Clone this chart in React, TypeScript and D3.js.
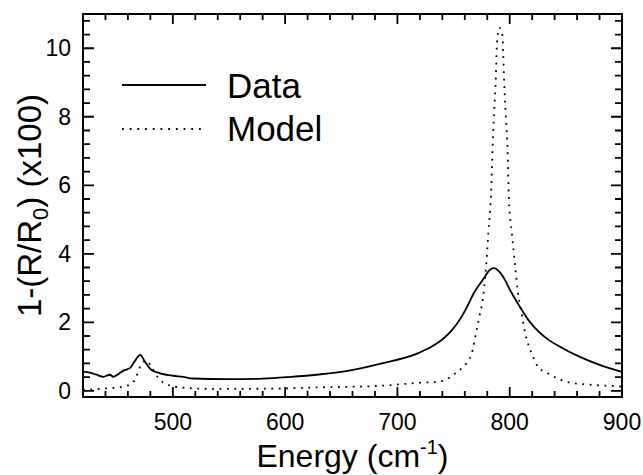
import React from "react";
import * as d3 from "d3";

// measured spectrum (Energy in cm-1, 1-(R/R0) x100)
const dataEnergy = [420, 426, 432, 438, 444, 447, 452, 456, 462, 466, 471, 475, 481, 488, 500, 509, 518, 548, 577, 601, 628, 657, 687, 717, 731, 740, 748, 756, 762, 768, 776, 783, 786, 794, 801, 808, 817, 826, 835, 844, 853, 862, 880, 899, 900];
const dataValue = [0.56, 0.53, 0.47, 0.41, 0.47, 0.41, 0.5, 0.59, 0.67, 0.86, 1.05, 0.86, 0.61, 0.52, 0.44, 0.41, 0.36, 0.34, 0.35, 0.4, 0.47, 0.59, 0.81, 1.08, 1.3, 1.5, 1.75, 2.1, 2.45, 2.85, 3.24, 3.55, 3.58, 3.34, 2.9, 2.51, 2.05, 1.72, 1.48, 1.3, 1.14, 1.0, 0.76, 0.56, 0.55];

// model curve
const modelEnergy = [420, 440, 455, 463, 467, 470, 474, 477, 480, 487, 495, 507, 530, 568, 600, 628, 660, 687, 717, 737, 743, 748, 752, 757, 761, 767, 770, 773, 776, 779, 781, 783.3, 784.7, 786.2, 787.7, 788.3, 789.2, 790.7, 792.5, 793.6, 794.2, 795.1, 796.6, 798.1, 799.3, 801.9, 804.9, 807, 810, 813.8, 820.7, 825, 833.6, 850, 870.7, 897, 900];
const modelValue = [0.03, 0.07, 0.12, 0.2, 0.38, 0.64, 0.85, 0.88, 0.75, 0.38, 0.18, 0.1, 0.06, 0.06, 0.07, 0.1, 0.12, 0.15, 0.23, 0.27, 0.32, 0.42, 0.52, 0.65, 0.78, 1.2, 1.68, 2.17, 2.66, 3.63, 4.61, 5.7, 7.04, 8.2, 9.18, 9.86, 10.35, 10.6, 10.5, 10.35, 9.86, 8.98, 8.0, 7.04, 5.6, 4.61, 3.63, 2.95, 2.36, 1.69, 1.0, 0.71, 0.52, 0.27, 0.18, 0.13, 0.12];

const xTickLabels = [500, 600, 700, 800, 900];
const xMinorTicks = [420, 440, 460, 480, 520, 540, 560, 580, 620, 640, 660, 680, 720, 740, 760, 780, 820, 840, 860, 880];
const yTickLabels = [0, 2, 4, 6, 8, 10];
const yMinorTicks = [0.4, 0.8, 1.2, 1.6, 2.4, 2.8, 3.2, 3.6, 4.4, 4.8, 5.2, 5.6, 6.4, 6.8, 7.2, 7.6, 8.4, 8.8, 9.2, 9.6, 10.4, 10.8];

const legendNames = ["Data", "Model"];

const FONT = '"Liberation Sans", Arial, Helvetica, sans-serif';

const App = () => {
    const ref = React.useRef<SVGSVGElement>(null);

    React.useEffect(() => {
        document.body.style.margin = "0";
        const svg = d3.select(ref.current);
        svg.selectAll("*").remove();

        const left = 83, right = 622, top = 14, bottom = 397;
        const x = d3.scaleLinear().domain([420, 900]).range([left, right]);
        const y = d3.scaleLinear().domain([-0.18, 11]).range([bottom, top]);

        // frame
        svg.append("rect")
            .attr("x", left).attr("y", top)
            .attr("width", right - left).attr("height", bottom - top)
            .attr("fill", "none").attr("stroke", "black").attr("stroke-width", 2);

        // inward ticks on all four sides, one path
        const tp = d3.path();
        const xt = (vals: number[], len: number) => vals.forEach((v) => {
            tp.moveTo(x(v), bottom); tp.lineTo(x(v), bottom - len);
            tp.moveTo(x(v), top); tp.lineTo(x(v), top + len);
        });
        const yt = (vals: number[], len: number) => vals.forEach((v) => {
            tp.moveTo(left, y(v)); tp.lineTo(left + len, y(v));
            tp.moveTo(right, y(v)); tp.lineTo(right - len, y(v));
        });
        xt(xTickLabels, 10);
        xt(xMinorTicks, 6);
        yt(yTickLabels, 11);
        yt(yMinorTicks, 7);
        svg.append("path")
            .attr("d", tp.toString())
            .attr("fill", "none")
            .attr("stroke", "black")
            .attr("stroke-width", 1.8);

        // tick labels
        xTickLabels.forEach((v) => {
            svg.append("text")
                .attr("x", x(v)).attr("y", 430)
                .attr("text-anchor", "middle")
                .style("font-family", FONT).style("font-size", "23px")
                .text(v);
        });
        yTickLabels.forEach((v) => {
            svg.append("text")
                .attr("x", 71).attr("y", y(v) + 8)
                .attr("text-anchor", "end")
                .style("font-family", FONT).style("font-size", "23px")
                .text(v);
        });

        // axis titles
        const xTitle = svg.append("text")
            .attr("x", (left + right) / 2).attr("y", 467)
            .attr("text-anchor", "middle")
            .style("font-family", FONT).style("font-size", "32px");
        xTitle.append("tspan").text("Energy (cm");
        xTitle.append("tspan").attr("dy", -13).style("font-size", "20px").text("-1");
        xTitle.append("tspan").attr("dy", 13).text(")");

        const yTitle = svg.append("text")
            .attr("transform", `translate(41,${(top + bottom) / 2}) rotate(-90)`)
            .attr("text-anchor", "middle")
            .style("font-family", FONT).style("font-size", "33px");
        yTitle.append("tspan").text("1-(R/R");
        yTitle.append("tspan").attr("dy", 7).style("font-size", "22px").text("0");
        yTitle.append("tspan").attr("dy", -7).text(") (x100)");

        // curves
        const dataPts = dataEnergy.map((e, i) => [e, dataValue[i]] as [number, number]);
        const modelPts = modelEnergy.map((e, i) => [e, modelValue[i]] as [number, number]);
        const path = d3.line<[number, number]>()
            .x((d) => x(d[0]))
            .y((d) => y(d[1]))
            .curve(d3.curveMonotoneX);

        svg.append("path")
            .attr("d", path(modelPts))
            .attr("fill", "none").attr("stroke", "black")
            .attr("stroke-width", 1.8)
            .attr("stroke-dasharray", "1.8 5.6");
        svg.append("path")
            .attr("d", path(dataPts))
            .attr("fill", "none").attr("stroke", "black")
            .attr("stroke-width", 1.8)
            .attr("stroke-linejoin", "round");

        // legend
        const lg = svg.append("g");
        lg.append("line").attr("x1", 122).attr("x2", 206).attr("y1", 85).attr("y2", 85)
            .attr("stroke", "black").attr("stroke-width", 2);
        lg.append("line").attr("x1", 122).attr("x2", 202).attr("y1", 129).attr("y2", 129)
            .attr("stroke", "black").attr("stroke-width", 1.8).attr("stroke-dasharray", "1.8 5.9");
        legendNames.forEach((n, i) => {
            lg.append("text")
                .attr("x", 227).attr("y", 98 + i * 43)
                .style("font-family", FONT).style("font-size", "35px")
                .text(n);
        });
    }, []);

    return <svg ref={ref} width={643} height={475} style={{ display: "block", background: "white" }}></svg>;
};

export default App;
